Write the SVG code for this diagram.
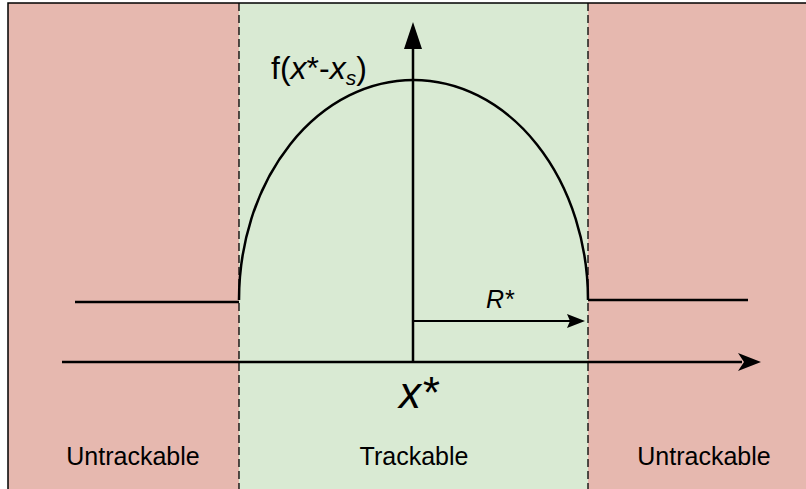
<svg xmlns="http://www.w3.org/2000/svg" width="806" height="489" viewBox="0 0 806 489">
<style>
.t{font-family:"Liberation Sans",Arial,sans-serif;fill:#000}
.ln{stroke:#000;stroke-width:2.5;fill:none}
.dash{stroke:#000;stroke-width:1.3;stroke-dasharray:8,4;fill:none}
</style>
<g id="regions">
<rect x="8" y="3" width="231" height="490" fill="#e6b8af"/>
<rect x="239" y="3" width="349" height="490" fill="#d9ead3"/>
<rect x="588" y="3" width="220" height="490" fill="#e6b8af"/>
<path d="M8,490 V3 H806" fill="none" stroke="#000" stroke-width="1.5"/>
</g>
<g id="connectors">
<line class="dash" x1="239" y1="3" x2="239" y2="489"/>
<line class="dash" x1="588" y1="3" x2="588" y2="489"/>
<path class="ln" d="M239,300 A174.5,220 0 0 1 588,300"/>
<line class="ln" x1="75" y1="302" x2="239" y2="302"/>
<line class="ln" x1="588" y1="300" x2="748" y2="300"/>
<line class="ln" x1="62" y1="362" x2="742" y2="362"/>
<polygon points="738,353 761,362 738,371 744,362" fill="#000"/>
<line class="ln" x1="413" y1="362" x2="413" y2="46"/>
<polygon points="404,49 413,22 422,49" fill="#000"/>
<line x1="413" y1="321" x2="572" y2="321" stroke="#000" stroke-width="2"/>
<polygon points="567,314 585,321 567,328 570,321" fill="#000"/>
</g>
<g id="labels">
<text class="t" x="271" y="79" font-size="32">f(<tspan font-style="italic">x</tspan>*-<tspan font-style="italic">x</tspan><tspan font-style="italic" font-size="21" dy="6">s</tspan><tspan dy="-6">)</tspan></text>
<text class="t" x="486" y="308" font-size="25" font-style="italic">R*</text>
<text class="t" x="399" y="408" font-size="44" font-style="italic">x*</text>
<text class="t" x="133" y="465" font-size="25" text-anchor="middle">Untrackable</text>
<text class="t" x="414" y="465" font-size="25" text-anchor="middle">Trackable</text>
<text class="t" x="704" y="465" font-size="25" text-anchor="middle">Untrackable</text>
</g>
</svg>
